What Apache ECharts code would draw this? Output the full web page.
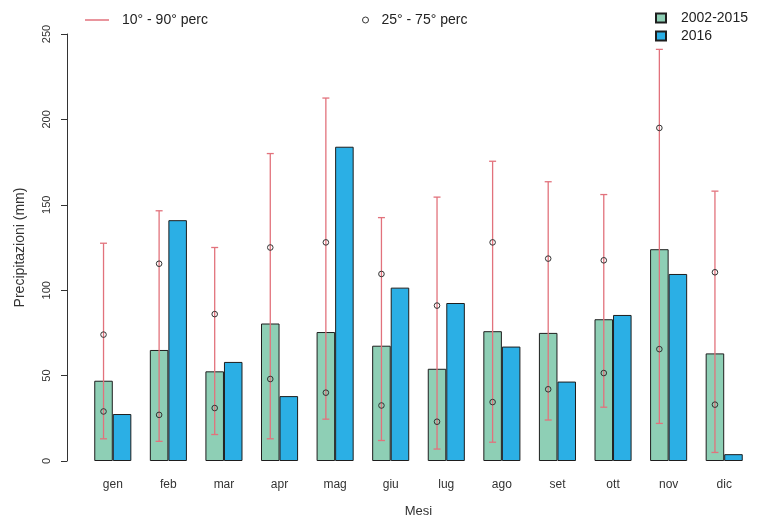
<!DOCTYPE html>
<html>
<head>
<meta charset="utf-8">
<script src="https://cdn.jsdelivr.net/npm/echarts@6/dist/echarts.min.js"></script>
<style>
  html, body { margin: 0; padding: 0; background: #fff; }
  #rainChart { width: 766px; height: 518px; }
</style>
</head>
<body>
<div id="rainChart"></div>
<script>
var rainChart = echarts.init(document.getElementById('rainChart'));

let mesi = ['gen', 'feb', 'mar', 'apr', 'mag', 'giu', 'lug', 'ago', 'set', 'ott', 'nov', 'dic'];
let media = [47, 65, 52.5, 80.5, 75.5, 67.5, 54, 76, 75, 83, 124, 63];       // 2002-2015
let anno2016 = [27.5, 141, 58, 38, 184, 101.5, 92.5, 67, 46.5, 85.5, 109.5, 4];
let perc10 = [13, 11.5, 15.5, 13, 24.5, 12, 7, 11, 24, 31.5, 22, 5];
let perc90 = [127.5, 146.5, 125, 180, 212.5, 142.5, 154.5, 175.5, 163.5, 156, 241, 158];
let perc25 = [29, 27, 31, 48, 40, 32.5, 23, 34.5, 42, 51.5, 65.5, 33];
let perc75 = [74, 115.5, 86, 125, 128, 109.5, 91, 128, 118.5, 117.5, 195, 110.5];

let font = 'Liberation Sans, Arial, sans-serif';
let red = '#e2727c';

let errData = mesi.map((m, i) => [i, perc10[i], perc90[i]]);
let circData = mesi.map((m, i) => [i, perc25[i], perc75[i]]);

let legendText = { fontSize: 14, color: '#222', fontFamily: font };

option = {
    backgroundColor: '#fff',
    animation: false,
    textStyle: { fontFamily: font },
    grid: { left: 85, right: 14, top: 34, bottom: 57, outerBoundsMode: 'none', containLabel: false },
    legend: [{
        left: 80, top: 8,
        icon: 'rect', itemWidth: 24, itemHeight: 1.5,
        textStyle: Object.assign({ padding: [0, 0, 0, 8] }, legendText),
        data: [{ name: '10° - 90° perc', itemStyle: { color: red } }]
    }, {
        left: 357, top: 8,
        icon: 'circle', itemWidth: 6, itemHeight: 6,
        textStyle: Object.assign({ padding: [0, 0, 0, 8] }, legendText),
        data: [{ name: '25° - 75° perc', itemStyle: { color: 'transparent', borderColor: '#333', borderWidth: 1 } }]
    }, {
        left: 650, top: 6, orient: 'vertical',
        icon: 'rect', itemWidth: 10, itemHeight: 9, itemGap: 4,
        textStyle: Object.assign({ padding: [0, 0, 0, 10] }, legendText),
        data: ['2002-2015', '2016']
    }],
    xAxis: {
        type: 'category',
        data: mesi,
        axisLine: { show: false },
        axisTick: { show: false },
        axisLabel: { fontSize: 12, color: '#333', margin: 18 },
        name: 'Mesi',
        nameLocation: 'middle',
        nameGap: 44,
        nameTextStyle: { fontSize: 13, color: '#333' }
    },
    yAxis: {
        type: 'value',
        min: 0, max: 250, interval: 50,
        offset: 18,
        splitLine: { show: false },
        axisLine: { show: true, lineStyle: { color: '#333' } },
        axisTick: { show: true, length: 6, lineStyle: { color: '#333' } },
        axisLabel: { rotate: 90, fontSize: 11, color: '#333', margin: 15 },
        name: 'Precipitazioni (mm)',
        nameLocation: 'middle',
        nameGap: 40,
        nameRotate: 90,
        nameTextStyle: { fontSize: 14, color: '#333' }
    },
    series: [{
        name: '2002-2015',
        type: 'bar',
        data: media,
        barGap: '0%',
        barCategoryGap: '33.3%',
        itemStyle: { color: '#8ecfb5', borderColor: '#1e1e1e', borderWidth: 1 }
    }, {
        name: '2016',
        type: 'bar',
        data: anno2016,
        itemStyle: { color: '#2bafe5', borderColor: '#1e1e1e', borderWidth: 1 }
    }, {
        name: '10° - 90° perc',
        type: 'custom',
        data: errData,
        z: 5,
        renderItem: function (params, api) {
            let lo = api.coord([api.value(0), api.value(1)]);
            let hi = api.coord([api.value(0), api.value(2)]);
            let x = lo[0] - api.size([1, 0])[0] / 6;
            let style = { stroke: red, lineWidth: 1.3 };
            return {
                type: 'group',
                children: [
                    { type: 'line', shape: { x1: x, y1: lo[1], x2: x, y2: hi[1] }, style: style },
                    { type: 'line', shape: { x1: x - 3.5, y1: lo[1], x2: x + 3.5, y2: lo[1] }, style: style },
                    { type: 'line', shape: { x1: x - 3.5, y1: hi[1], x2: x + 3.5, y2: hi[1] }, style: style }
                ]
            };
        }
    }, {
        name: '25° - 75° perc',
        type: 'custom',
        data: circData,
        z: 6,
        renderItem: function (params, api) {
            let a = api.coord([api.value(0), api.value(1)]);
            let b = api.coord([api.value(0), api.value(2)]);
            let x = a[0] - api.size([1, 0])[0] / 6;
            let style = { stroke: '#333', fill: 'none', lineWidth: 1 };
            return {
                type: 'group',
                children: [
                    { type: 'circle', shape: { cx: x, cy: a[1], r: 2.8 }, style: style },
                    { type: 'circle', shape: { cx: x, cy: b[1], r: 2.8 }, style: style }
                ]
            };
        }
    }]
};
rainChart.setOption(option);
</script>
</body>
</html>
